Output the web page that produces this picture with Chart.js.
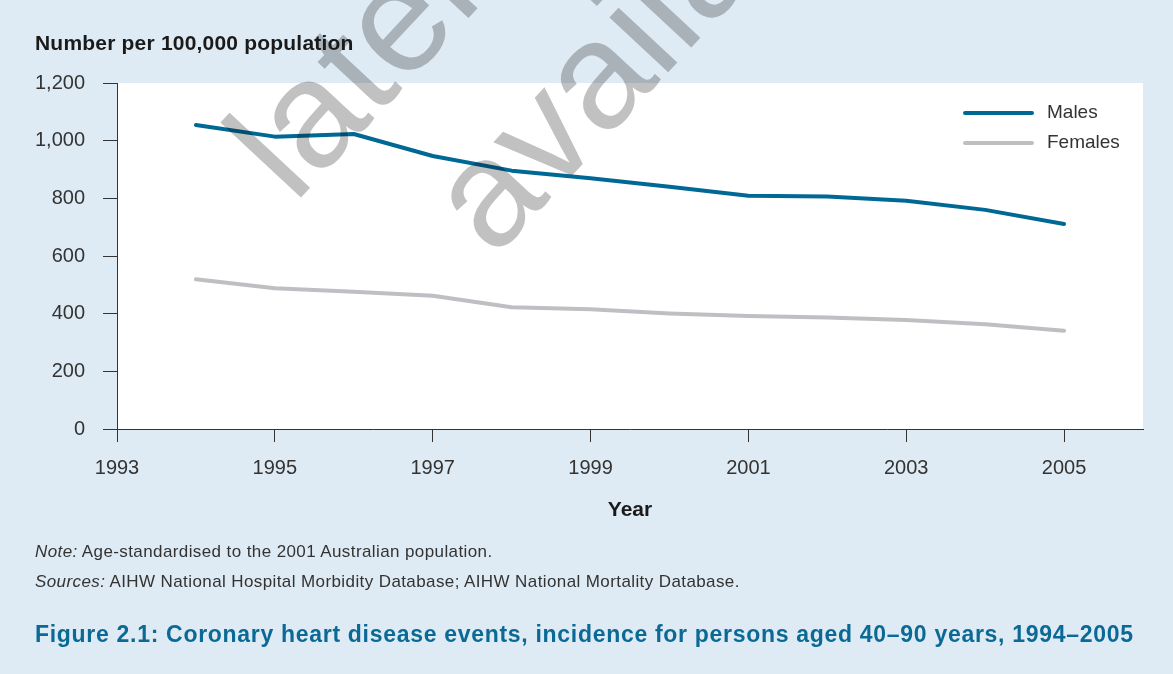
<!DOCTYPE html>
<html><head><meta charset="utf-8">
<script src="https://cdn.jsdelivr.net/npm/chart.js@4.4.1/dist/chart.umd.min.js"></script>
<style>
html,body{margin:0;padding:0;background:#dfebf4;}
#wrap{position:relative;width:1173px;height:674px;overflow:hidden;font-family:"Liberation Sans",Arial,sans-serif;}
canvas{position:absolute;left:0;top:0;}
.t{position:absolute;white-space:nowrap;color:#222;line-height:1;}
</style></head><body>
<div id="wrap">
<canvas id="c" width="1173" height="674"></canvas>
<div class="t" style="left:35px;top:32px;font-weight:bold;font-size:21px;letter-spacing:0.2px;color:#1a1a1a">Number per 100,000 population</div>
<div class="t" style="left:35px;top:543px;font-size:17px;letter-spacing:0.4px;color:#333"><i>Note:</i> Age-standardised to the 2001 Australian population.</div>
<div class="t" style="left:35px;top:573px;font-size:17px;letter-spacing:0.4px;color:#333"><i>Sources:</i> AIHW National Hospital Morbidity Database; AIHW National Mortality Database.</div>
<div class="t" style="left:35px;top:623px;font-size:23px;letter-spacing:0.7px;font-weight:bold;color:#0a6a95">Figure 2.1: Coronary heart disease events, incidence for persons aged 40–90 years, 1994–2005</div>
</div>
<script>
const years = [1994,1995,1996,1997,1998,1999,2000,2001,2002,2003,2004,2005];
const males = [1054,1014,1023,947,896,870,840,809,806,792,760,711];
const females = [519,488,476,462,422,415,401,392,387,378,363,341];
const xTickYears = [1993,1995,1997,1999,2001,2003,2005];
const seriesLabels = ['Males','Females'];

const BG = '#dfebf4';
const AXIS = '#333333';

const bgPlugin = {
  id: 'bg',
  beforeDraw(chart) {
    const {ctx, chartArea: a} = chart;
    ctx.save();
    ctx.fillStyle = BG;
    ctx.fillRect(0, 0, chart.width, chart.height);
    ctx.fillStyle = '#ffffff';
    ctx.fillRect(a.left, a.top, a.right - a.left, a.bottom - a.top);
    ctx.restore();
  }
};

const legendPlugin = {
  id: 'customLegend',
  afterDatasetsDraw(chart) {
    const {ctx, chartArea: a} = chart;
    ctx.save();
    chart.data.datasets.forEach((ds, i) => {
      const y = a.top + 30 + i * 30;
      const x0 = a.right - 178, x1 = a.right - 111;
      ctx.strokeStyle = ds.borderColor;
      ctx.lineWidth = 4;
      ctx.lineCap = 'round';
      ctx.beginPath(); ctx.moveTo(x0, y); ctx.lineTo(x1, y); ctx.stroke();
      ctx.fillStyle = '#333';
      ctx.font = '19px "Liberation Sans", Arial, sans-serif';
      ctx.textBaseline = 'middle';
      ctx.textAlign = 'left';
      ctx.fillText(ds.label, a.right - 96, y);
    });
    ctx.restore();
  }
};

const watermarkPlugin = {
  id: 'watermark',
  afterDraw(chart) {
    const ctx = chart.ctx;
    ctx.save();
    ctx.globalCompositeOperation = 'multiply';
    ctx.fillStyle = '#c1c1c1';
    ctx.font = '152px "Liberation Sans", Arial, sans-serif';
    ctx.textBaseline = 'alphabetic';
    ctx.textAlign = 'left';
    const ang = -47 * Math.PI / 180;
    [['later data', 294, 205], ['available', 494, 259]].forEach(([txt, x, y]) => {
      ctx.save();
      ctx.translate(x, y);
      ctx.rotate(ang);
      ctx.fillText(txt, 0, 0);
      ctx.restore();
    });
    ctx.restore();
  }
};

new Chart(document.getElementById('c'), {
  type: 'line',
  data: {
    datasets: [
      { label: seriesLabels[0], data: years.map((y, i) => ({x: y, y: males[i]})),
        borderColor: '#006895', borderWidth: 4, pointRadius: 0, tension: 0,
        borderCapStyle: 'round', borderJoinStyle: 'round' },
      { label: seriesLabels[1], data: years.map((y, i) => ({x: y, y: females[i]})),
        borderColor: '#bfbfc3', borderWidth: 4, pointRadius: 0, tension: 0,
        borderCapStyle: 'round', borderJoinStyle: 'round' }
    ]
  },
  options: {
    responsive: false,
    animation: false,
    devicePixelRatio: 1,
    layout: { padding: { left: 0, top: 83, right: 30, bottom: 0 } },
    plugins: { legend: { display: false }, tooltip: { enabled: false }, title: { display: false } },
    scales: {
      x: {
        type: 'linear', min: 1993, max: 2006,
        afterBuildTicks: s => { s.ticks = xTickYears.map(v => ({value: v})); },
        afterFit: s => { s.height = 245; },
        grid: { drawOnChartArea: false, drawTicks: true, tickLength: 13, color: AXIS, lineWidth: 1 },
        border: { display: true, color: AXIS, width: 1 },
        ticks: { color: '#333', font: { size: 20, family: '"Liberation Sans", Arial, sans-serif' }, padding: 14,
                 callback: v => String(v), maxRotation: 0, autoSkip: false },
        title: { display: true, text: 'Year', color: '#1a1a1a',
                 font: { size: 21, weight: 'bold', family: '"Liberation Sans", Arial, sans-serif' },
                 padding: { top: 0, bottom: 151 } }
      },
      y: {
        min: 0, max: 1200,
        afterFit: s => { s.width = 117; },
        grid: { drawOnChartArea: false, drawTicks: true, tickLength: 14, color: AXIS, lineWidth: 1 },
        border: { display: true, color: AXIS, width: 1 },
        ticks: { stepSize: 200, color: '#333', padding: 18,
                 font: { size: 20, family: '"Liberation Sans", Arial, sans-serif' },
                 callback: v => v.toLocaleString('en-US') }
      }
    }
  },
  plugins: [bgPlugin, legendPlugin, watermarkPlugin]
});
</script>
</body></html>
